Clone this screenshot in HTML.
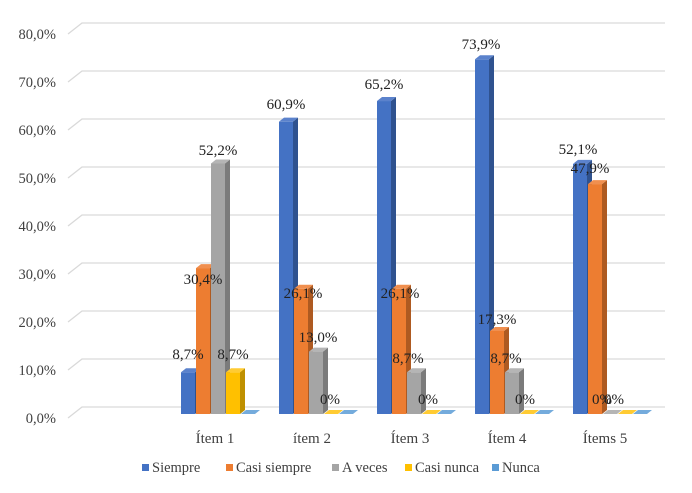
<!DOCTYPE html>
<html><head><meta charset="utf-8"><style>
html,body{margin:0;padding:0;background:#fff;}
svg{display:block;font-family:"Liberation Serif",serif;}
</style></head><body>
<svg width="692" height="493" viewBox="0 0 692 493" xmlns="http://www.w3.org/2000/svg">
<g id="grid" stroke="#d9d9d9" stroke-width="1.3" fill="none"></g>
<g id="ylab" font-size="14.5" fill="#404040" text-anchor="end"></g>
<g id="bars"></g>
<g id="lbl" font-size="15" fill="#222" text-anchor="middle"></g>
<g font-size="15" fill="#404040" text-anchor="middle">
<text x="215" y="443">Ítem 1</text><text x="312" y="443">ítem 2</text><text x="410" y="443">Ítem 3</text><text x="507" y="443">Ítem 4</text><text x="605" y="443">Ítems 5</text>
</g>
<g font-size="14.5" fill="#404040">
<rect x="142" y="464" width="7" height="7" fill="#4472C4"/><text x="152" y="472">Siempre</text>
<rect x="226" y="464" width="7" height="7" fill="#ED7D31"/><text x="236" y="472">Casi siempre</text>
<rect x="332" y="464" width="7" height="7" fill="#A5A5A5"/><text x="342" y="472">A veces</text>
<rect x="405" y="464" width="7" height="7" fill="#FFC000"/><text x="415" y="472">Casi nunca</text>
<rect x="492" y="464" width="7" height="7" fill="#5B9BD5"/><text x="502" y="472">Nunca</text>
</g>
</svg>
<script>
const ns="http://www.w3.org/2000/svg";
function el(p,t,a,txt){const e=document.createElementNS(ns,t);for(const k in a)e.setAttribute(k,a[k]);if(txt!=null)e.textContent=txt;document.getElementById(p).appendChild(e);}
for(let i=0;i<=8;i++){const y=407-i*48;el('grid','path',{d:`M68 ${y+11} L82 ${y} L665 ${y}`});el('ylab','text',{x:56,y:y+16},(i*10)+',0%');}
const cols=[["#4472C4","#2F528F","#5b82cc"],["#ED7D31","#AE5A21","#f08f4f"],["#A5A5A5","#7B7B7B","#b5b5b5"],["#FFC000","#BF9000","#ffcb33"],["#5B9BD5","#41719C","#74abdc"]];
const data=[[8.7,30.4,52.2,8.7,0],[60.9,26.1,13.0,0,0],[65.2,26.1,8.7,0,0],[73.9,17.3,8.7,0,0],[52.1,47.9,0,0,0]];
const lab=[["8,7%","30,4%","52,2%","8,7%",null],["60,9%","26,1%","13,0%","0%",null],["65,2%","26,1%","8,7%","0%",null],["73,9%","17,3%","8,7%","0%",null],["52,1%","47,9%","0%","0%",null]];
const W=15,dx=5,dy=4,B=414;
data.forEach((g,gi)=>{g.forEach((v,bi)=>{const x=181+gi*98+bi*W;const h=v*4.8;const t=B-h;const c=cols[bi];
if(h>0)el('bars','rect',{x:x,y:t,width:W-1,height:h,fill:c[0]});
el('bars','path',{d:`M${x+W-1} ${t} L${x+W-1+dx} ${t-dy} L${x+W-1+dx} ${B-dy} L${x+W-1} ${B} Z`,fill:c[1]});
el('bars','path',{d:`M${x} ${t} L${x+dx} ${t-dy} L${x+W-1+dx} ${t-dy} L${x+W-1} ${t} Z`,fill:c[2]});
});});
const lx=[[188,203,218,233],[286,303,318,330],[384,400,408,428],[481,497,506,525],[578,590,602,614]];
const yl=[[359,284,155,359],[109,298,342,404],[89,298,363,404],[49,324,363,404],[154,173,404,404]];
lab.forEach((g,gi)=>g.forEach((s,bi)=>{if(s)el('lbl','text',{x:lx[gi][bi],y:yl[gi][bi]},s);}));
</script>
</body></html>
